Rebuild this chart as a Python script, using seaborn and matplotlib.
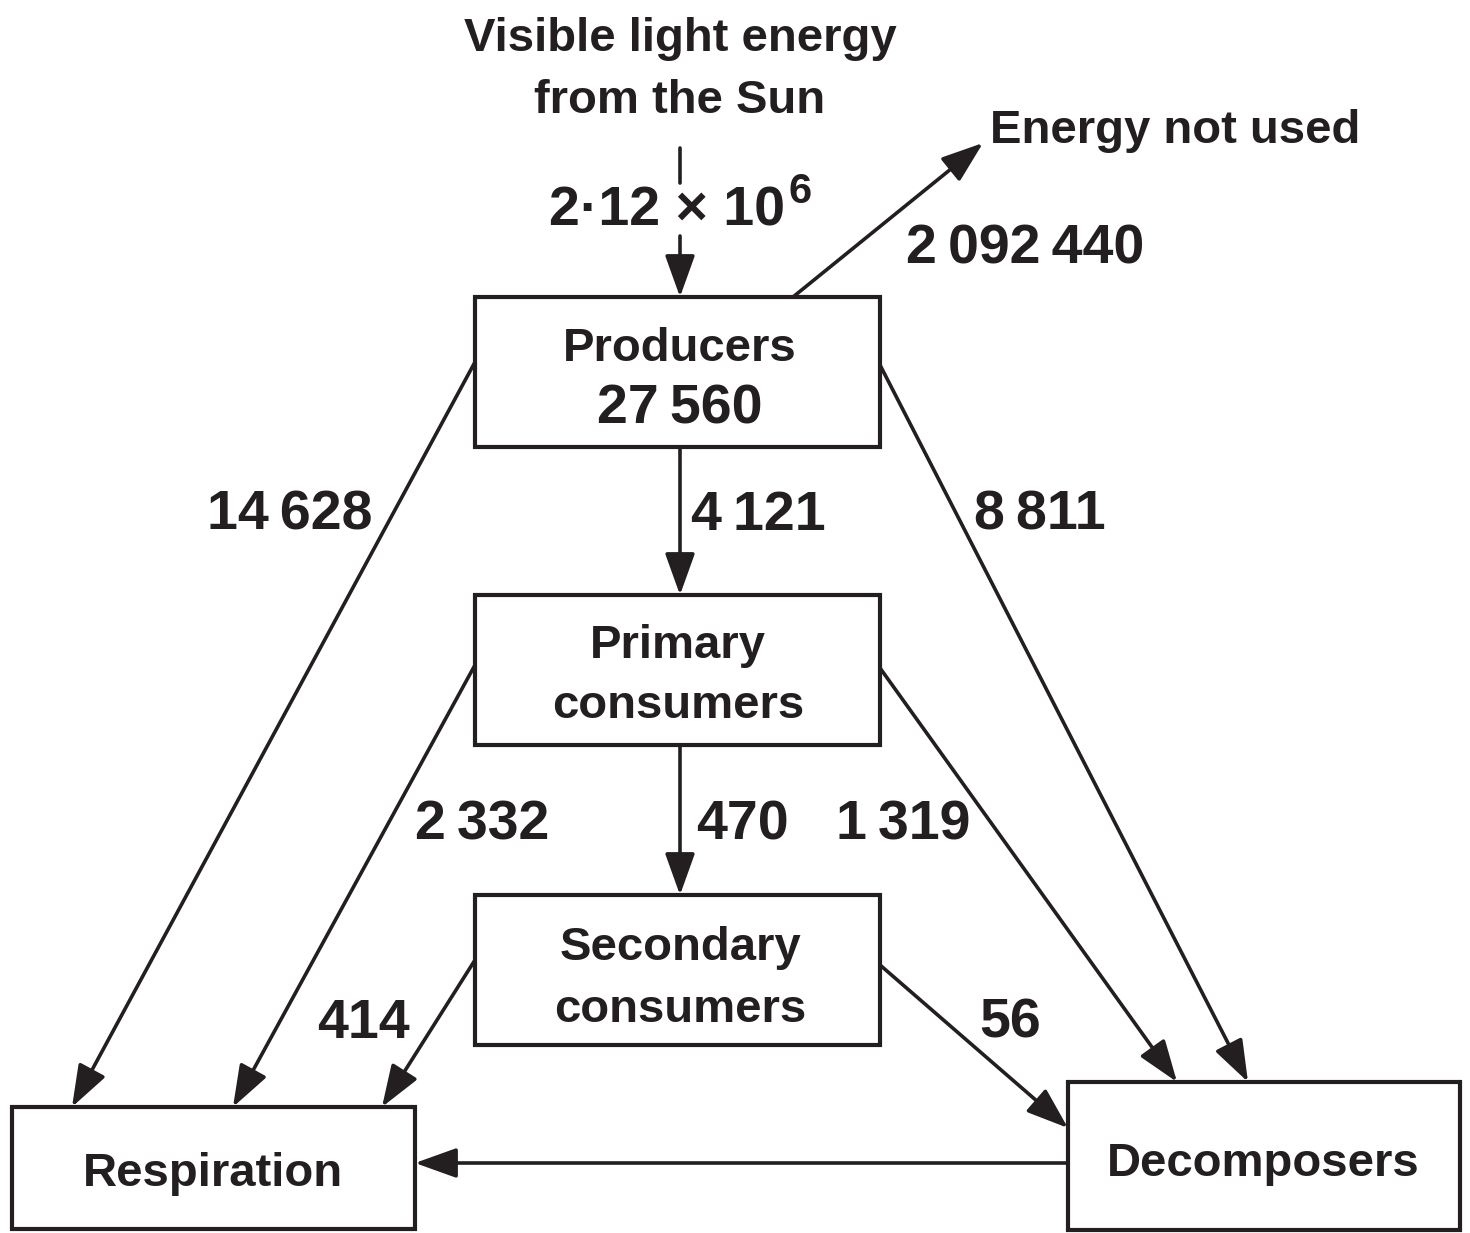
import matplotlib
matplotlib.use("Agg")
import matplotlib.pyplot as plt
import seaborn as sns
from matplotlib.patches import Rectangle

sns.set_style("white")
plt.rcParams['font.family'] = ['Liberation Sans', 'DejaVu Sans']
plt.rcParams['font.weight'] = 'bold'

INK = '#231f20'
TS = '\u2009'  # thin space used in the numbers

# data
nodes = ['Producers', 'Primary\nconsumers', 'Secondary\nconsumers', 'Respiration', 'Decomposers']
producers_total = '27' + TS + '560'
sun_input = '2·12 × 10'
sun_exp = '6'
not_used = '2' + TS + '092' + TS + '440'
flow_src = ['Producers', 'Producers', 'Producers', 'Primary\nconsumers', 'Primary\nconsumers',
            'Primary\nconsumers', 'Secondary\nconsumers', 'Secondary\nconsumers', 'Decomposers']
flow_dst = ['Respiration', 'Primary\nconsumers', 'Decomposers', 'Respiration', 'Secondary\nconsumers',
            'Decomposers', 'Respiration', 'Decomposers', 'Respiration']
flow_val = ['14' + TS + '628', '4' + TS + '121', '8' + TS + '811', '2' + TS + '332', '470',
            '1' + TS + '319', '414', '56', '']

# layout (pixel space of the picture)
box = {
    'Producers': (475, 297, 405, 150),
    'Primary\nconsumers': (475, 595, 405, 150),
    'Secondary\nconsumers': (475, 895, 405, 150),
    'Respiration': (12, 1107, 403, 122),
    'Decomposers': (1068, 1082, 392, 148),
}
label_pos = {
    'Producers': (680, 349),
    'Primary\nconsumers': (678, 676),
    'Secondary\nconsumers': (680, 979),
    'Respiration': (213, 1174),
    'Decomposers': (1263, 1164),
}
flow_xy = [((475, 362), (72, 1107)), ((680, 447), (680, 595)), ((880, 365), (1248, 1082)),
           ((475, 665), (233, 1107)), ((680, 745), (680, 895)), ((880, 668), (1177, 1082)),
           ((475, 960), (382, 1107)), ((880, 965), (1068, 1128)), ((1068, 1163), (415, 1163))]
val_pos = [(290, 516), (758, 516), (1040, 516), (482, 826), (742, 826), (903, 826),
           (363, 1024), (1010, 1024), (0, 0)]

fig = plt.figure(figsize=(14.7, 12.33), dpi=100)
ax = fig.add_axes([0, 0, 1, 1])
ax.set_xlim(0, 1470)
ax.set_ylim(1233, 0)
ax.axis('off')

arrow = dict(arrowstyle='-|>,head_length=0.78,head_width=0.28', mutation_scale=33,
             color=INK, lw=2.6, shrinkA=0, shrinkB=0)

for name in nodes:
    x, y, w, h = box[name]
    ax.add_patch(Rectangle((x, y), w, h, fill=False, ec=INK, lw=3.0, zorder=3))
    lx, ly = label_pos[name]
    ax.text(lx, ly, name, ha='center', va='center', fontsize=34, color=INK,
            linespacing=1.5, zorder=4)

ax.text(680, 409, producers_total, ha='center', va='center', fontsize=40, color=INK)

for (a, b), v, p in zip(flow_xy, flow_val, val_pos):
    ax.annotate('', xy=b, xytext=a, arrowprops=arrow)
    if v:
        ax.text(p[0], p[1], v, ha='center', va='center', fontsize=40, color=INK)

# sunlight input
ax.text(680, 39, 'Visible light energy', ha='center', va='center', fontsize=34, color=INK)
ax.text(680, 101, 'from the Sun', ha='center', va='center', fontsize=34, color=INK)
ax.plot([680, 680], [148, 183], color=INK, lw=2.6)
ax.annotate('', xy=(680, 297), xytext=(680, 236), arrowprops=arrow)
ax.text(785, 212, sun_input, ha='right', va='center', fontsize=40, color=INK)
ax.text(789, 192, sun_exp, ha='left', va='center', fontsize=30, color=INK)

# energy not used
ax.annotate('', xy=(983, 143), xytext=(793, 297), arrowprops=arrow)
ax.text(990, 131, 'Energy not used', ha='left', va='center', fontsize=34, color=INK)
ax.text(1025, 249, not_used, ha='center', va='center', fontsize=40, color=INK)

fig.savefig('out.png', dpi=100, facecolor='white')
